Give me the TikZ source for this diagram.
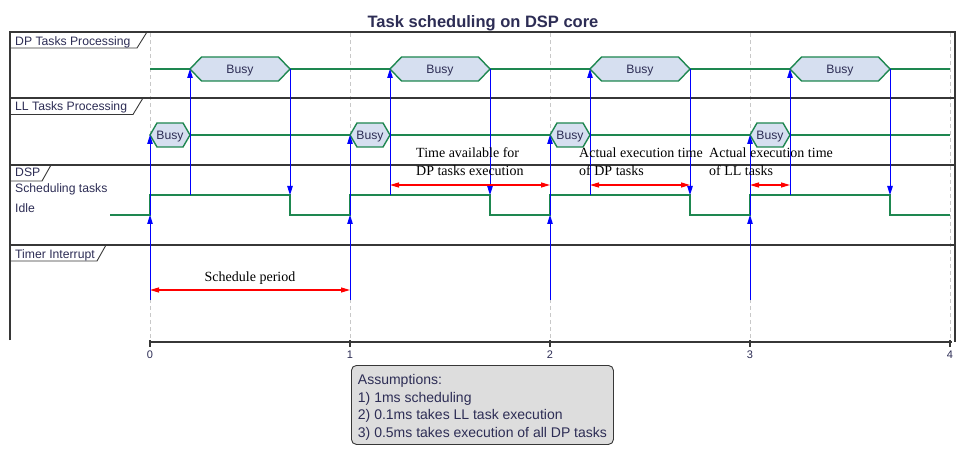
\documentclass[tikz,border=0pt]{standalone}
\usepackage{fontspec}
\setmainfont{Liberation Sans}
\newfontfamily\serifa{Liberation Serif}
\usetikzlibrary{arrows.meta}
\definecolor{sig}{RGB}{30,135,80}
\definecolor{hexfill}{RGB}{214,223,240}
\definecolor{txt}{RGB}{45,45,85}
\definecolor{framec}{RGB}{55,55,55}
\definecolor{gridc}{RGB}{200,200,200}
\definecolor{notefill}{RGB}{221,221,221}
\newcommand\busyhex[6]{%
  \draw[hexshape] (#2,#4) -- ({#2+#5},{#4-#6}) -- ({#3-#5},{#4-#6}) -- (#3,#4) -- ({#3-#5},{#4+#6}) -- ({#2+#5},{#4+#6}) -- cycle;
  \node[busytext] (#1) at ({(#2+#3)/2},{#4+5}) {Busy};}
\begin{document}
\begin{tikzpicture}[x=1pt,y=-1pt,
  frameline/.style={draw=framec,line width=1.6pt},
  tabline/.style={draw=framec,line width=0.9pt},
  gridline/.style={draw=gridc,dash pattern=on 4pt off 3pt,line width=0.8pt},
  sigline/.style={draw=sig,line width=1.4pt},
  hexshape/.style={draw=sig,fill=hexfill,line width=1.4pt,line join=miter},
  lbl/.style={font=\fontsize{12.2}{14}\selectfont,text=txt,inner sep=0pt,anchor=base west},
  busytext/.style={font=\fontsize{12.2}{14}\selectfont,text=txt,inner sep=0pt,anchor=base},
  msg/.style={draw=blue,line width=1pt,-{Triangle[length=9pt,width=5.5pt]}},
  span/.style={draw=red,line width=1.2pt,{Triangle[length=9pt,width=5pt]}-{Triangle[length=9pt,width=5pt]}},
  spantext/.style={font=\serifa\fontsize{14}{18}\selectfont,text=black,inner sep=0pt,align=left,anchor=base west},
  ticklbl/.style={font=\fontsize{11}{13}\selectfont,text=txt,inner sep=0pt,anchor=base},
  notebox/.style={draw=framec,fill=notefill,line width=0.9pt,rounded corners=5pt,anchor=north west,
    inner xsep=6pt,minimum width=262pt,minimum height=79pt,align=left,
    font=\fontsize{14}{17.5}\selectfont,text=txt}]
\useasboundingbox (0,0) rectangle (966,454);
\fill[white] (0,0) rectangle (966,454);
% title
\node[font=\bfseries\fontsize{16.5}{18}\selectfont,text=txt,inner sep=0pt,anchor=base] (title) at (483,27.5) {Task scheduling on DSP core};
% grid
\foreach \k in {0,...,4}{\draw[gridline] ({150+200*\k},33) -- ({150+200*\k},340);}
% frame
\draw[frameline] (10,340) -- (10,32) -- (955,32) -- (955,342);
\draw[frameline] (10,98) -- (955,98);
\draw[frameline] (10,165) -- (955,165);
\draw[frameline] (10,245) -- (955,245);
% tabs
\draw[tabline] (10,48) -- (137,48) -- (147,32);
\draw[tabline] (10,114.5) -- (133,114.5) -- (143,98);
\draw[tabline] (10,181) -- (42,181) -- (51,165);
\draw[tabline] (10,261) -- (97,261) -- (106,245);
\node[lbl] (ldp) at (15,45.5) {DP Tasks Processing};
\node[lbl] (lll) at (15,111) {LL Tasks Processing};
\node[lbl] (ldsp) at (15,177) {DSP};
\node[lbl] (lsch) at (15,193) {Scheduling tasks};
\node[lbl] (lidle) at (15,213) {Idle};
\node[lbl] (ltim) at (15,258.5) {Timer Interrupt};
% axis
\draw[frameline] (150,342) -- (952,342);
\foreach \k in {0,...,4}{
  \draw[frameline] ({150+200*\k},340) -- ({150+200*\k},347);
  \node[ticklbl] (tk\k) at ({150+200*\k},358) {\k};}
% DP signal
\draw[sigline] (150,69) -- (190,69);
\draw[sigline] (290,69) -- (390,69);
\draw[sigline] (490,69) -- (590,69);
\draw[sigline] (690,69) -- (790,69);
\draw[sigline] (890,69) -- (950,69);
% LL signal
\draw[sigline] (190,135) -- (350,135);
\draw[sigline] (390,135) -- (550,135);
\draw[sigline] (590,135) -- (750,135);
\draw[sigline] (790,135) -- (950,135);
% DSP signal
\draw[sigline,line join=miter] (110,215) -- (150,215) -- (150,195) -- (290,195) -- (290,215) -- (350,215) -- (350,195) -- (490,195) -- (490,215) -- (550,215) -- (550,195) -- (690,195) -- (690,215) -- (750,215) -- (750,195) -- (890,195) -- (890,215) -- (950,215);
\foreach \k/\xa in {0/150,1/350,2/550,3/750}{
  \busyhex{dpb\k}{\xa+40}{\xa+140}{69}{11.5}{12}
  \busyhex{llb\k}{\xa}{\xa+40}{135}{7}{12}
  \coordinate (tm\k) at (\xa,300);
  \coordinate (dspa\k) at (\xa,215);
  \coordinate (lla\k) at (\xa,135);
  \coordinate (dsps\k) at (\xa+40,195);
  \coordinate (dps\k) at (\xa+40,69);
  \coordinate (dpe\k) at (\xa+140,69);
  \coordinate (dspe\k) at (\xa+140,195);
  \draw[msg] (tm\k) -- (dspa\k);
  \draw[msg] (dspa\k) -- (lla\k);
  \draw[msg] (dsps\k) -- (dps\k);
  \draw[msg] (dpe\k) -- (dspe\k);
}
% spans
\coordinate (sa) at (150,290); \coordinate (sb) at (350,290);
\draw[span] (sa) -- (sb);
\node[spantext,anchor=base] (stx) at (250,282) {Schedule period};
\coordinate (ta) at (390,185); \coordinate (tb) at (550,185);
\draw[span] (ta) -- (tb);
\node[spantext] (ttx) at (416,176) {Time available for\\DP tasks execution};
\coordinate (ua) at (590,185); \coordinate (ub) at (690,185);
\draw[span] (ua) -- (ub);
\node[spantext] (utx) at (579,176) {Actual execution time\\of DP tasks};
\coordinate (va) at (750,185); \coordinate (vb) at (790,185);
\draw[span] (va) -- (vb);
\node[spantext] (vtx) at (709,176) {Actual execution time\\of LL tasks};
% note
\node[notebox] (note) at (351,365) {\rule{0pt}{15pt}Assumptions:\\1) 1ms scheduling\\2) 0.1ms takes LL task execution\\3) 0.5ms takes execution of all DP tasks};
\end{tikzpicture}
\end{document}
